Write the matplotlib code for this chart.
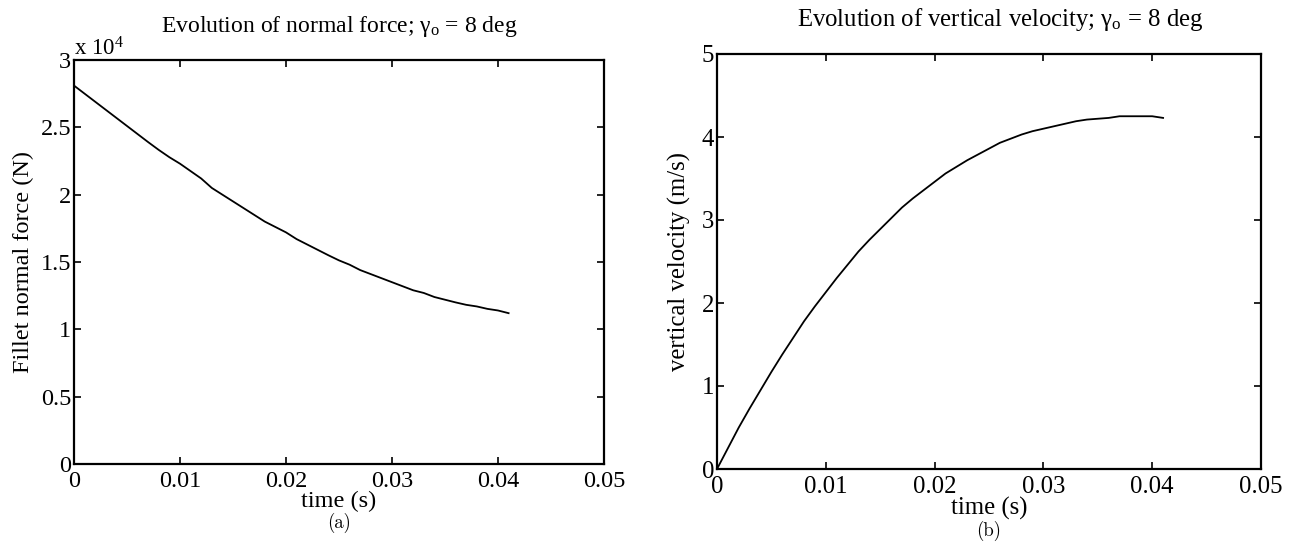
import matplotlib
matplotlib.use("Agg")
import matplotlib.pyplot as plt

# ---- data ----
time_s = [0.000, 0.001, 0.002, 0.003, 0.004, 0.005, 0.006, 0.007, 0.008, 0.009,
          0.010, 0.011, 0.012, 0.013, 0.014, 0.015, 0.016, 0.017, 0.018, 0.019,
          0.020, 0.021, 0.022, 0.023, 0.024, 0.025, 0.026, 0.027, 0.028, 0.029,
          0.030, 0.031, 0.032, 0.033, 0.034, 0.035, 0.036, 0.037, 0.038, 0.039,
          0.040, 0.041]
normal_force_N = [28100, 27500, 26900, 26300, 25700, 25100, 24500, 23900, 23320, 22780,
                  22300, 21750, 21200, 20500, 20000, 19500, 19000, 18500, 18000, 17600,
                  17200, 16700, 16300, 15900, 15500, 15120, 14800, 14400, 14100, 13800,
                  13500, 13200, 12900, 12700, 12400, 12200, 12000, 11820, 11700, 11520,
                  11400, 11200]
vert_velocity = [0.00, 0.25, 0.50, 0.73, 0.95, 1.17, 1.38, 1.58, 1.78, 1.96,
                 2.13, 2.30, 2.46, 2.62, 2.76, 2.89, 3.02, 3.15, 3.26, 3.36,
                 3.46, 3.56, 3.64, 3.72, 3.79, 3.86, 3.93, 3.98, 4.03, 4.07,
                 4.10, 4.13, 4.16, 4.19, 4.21, 4.22, 4.23, 4.25, 4.25, 4.25,
                 4.25, 4.23]
x_ticks = [0, 0.01, 0.02, 0.03, 0.04, 0.05]
x_ticklabels = ["0", "0.01", "0.02", "0.03", "0.04", "0.05"]
force_ticks = [0, 0.5, 1, 1.5, 2, 2.5, 3]
force_ticklabels = ["0", "0.5", "1", "1.5", "2", "2.5", "3"]
vel_ticks = [0, 1, 2, 3, 4, 5]
vel_ticklabels = ["0", "1", "2", "3", "4", "5"]
force_scale = 1e4

plt.rcParams["font.family"] = ["Liberation Serif", "DejaVu Serif"]
plt.rcParams["mathtext.fontset"] = "custom"
plt.rcParams["mathtext.rm"] = "Liberation Serif"
plt.rcParams["mathtext.it"] = "Liberation Serif:italic"

W, H = 1293, 559
fig = plt.figure(figsize=(W / 100, H / 100), dpi=100)

def px_axes(x0, y0, x1, y1):
    return fig.add_axes([x0 / W, 1 - y1 / H, (x1 - x0) / W, (y1 - y0) / H])

ax1 = px_axes(74, 60, 604, 464)
ax2 = px_axes(717, 54, 1261, 469)

FS = 17.5
for ax, fs in ((ax1, FS), (ax2, FS * 1.02)):
    for s in ax.spines.values():
        s.set_linewidth(1.6)
    ax.tick_params(direction="in", top=True, right=True, length=5, width=1.2,
                   labelsize=fs)
    ax.tick_params(axis="x", pad=5)
    ax.tick_params(axis="y", pad=2)
    ax.set_xlim(0, 0.05)
    ax.set_xticks(x_ticks)
    ax.set_xticklabels(x_ticklabels)

ax1.plot(time_s, [v / force_scale for v in normal_force_N], color="black", lw=1.3)
ax1.set_ylim(0, 3)
ax1.set_yticks(force_ticks)
ax1.set_yticklabels(force_ticklabels)
ax1.set_xlabel("time (s)", fontsize=FS, labelpad=-1)
ax1.set_ylabel("Fillet normal force (N)", fontsize=FS, labelpad=5)
ax1.set_title("Evolution of normal force; γ$_{\\mathrm{o}}$ = 8 deg", fontsize=17, pad=20)
ax1.text(0.0, 1.0, "x 10$^{4}$", transform=ax1.transAxes, fontsize=16.5,
         ha="left", va="bottom")

ax2.plot(time_s, vert_velocity, color="black", lw=1.3)
ax2.set_ylim(0, 5)
ax2.set_yticks(vel_ticks)
ax2.set_yticklabels(vel_ticklabels)
ax2.set_xlabel("time (s)", fontsize=FS * 1.02, labelpad=-1)
ax2.set_ylabel("vertical velocity (m/s)", fontsize=FS * 1.02, labelpad=8)
ax2.set_title("Evolution of vertical velocity; γ$_{\\mathrm{o}}$ = 8 deg", fontsize=17.8,
              pad=20, x=0.52)

fig.text(339 / W, 1 - 523 / H, "(a)", family="cmr10", fontsize=13.5, ha="center", va="center")
fig.text(989 / W, 1 - 531 / H, "(b)", family="cmr10", fontsize=13.5, ha="center", va="center")

fig.savefig("out.png", dpi=100)
